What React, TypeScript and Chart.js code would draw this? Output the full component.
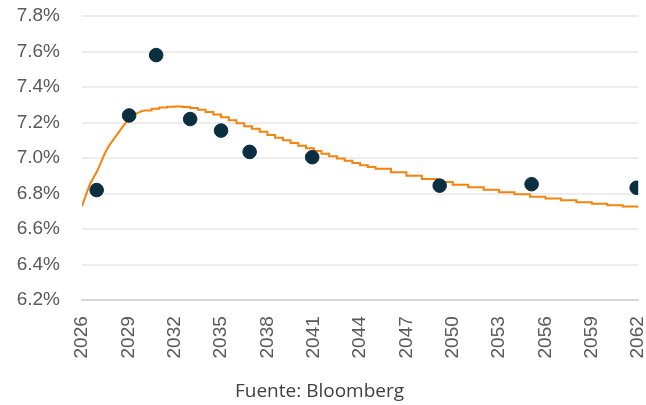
import React, { useEffect, useRef } from "react";
import { Chart, registerables } from "chart.js";

Chart.register(...registerables);

// Observed yields (dots)
const dotYears = [2026.95, 2029.05, 2030.8, 2033.0, 2035.0, 2036.85, 2040.9, 2049.15, 2055.1, 2061.9];
const dotValues = [6.82, 7.24, 7.58, 7.22, 7.155, 7.035, 7.005, 6.845, 6.853, 6.833];

// Fitted curve, steep early part (smooth)
const curveEarlyYears = [
  2026.0, 2026.25, 2026.5, 2026.75, 2027.0, 2027.25, 2027.5, 2027.75,
  2028.0, 2028.25, 2028.5, 2028.75, 2029.0, 2029.25, 2029.5, 2029.75, 2030.0,
];
const curveEarlyValues = [
  6.73, 6.79, 6.85, 6.89, 6.93, 6.98, 7.03, 7.07,
  7.1, 7.13, 7.16, 7.19, 7.215, 7.235, 7.25, 7.26, 7.268,
];

// Fitted curve, later part (stepped)
const curveLateYears = [
  2030.0, 2030.5, 2031.0, 2031.5, 2032.0, 2032.5, 2033.0, 2033.5,
  2034.0, 2034.5, 2035.0, 2035.5, 2036.0, 2036.5, 2037.0, 2037.5,
  2038.0, 2038.5, 2039.0, 2039.5, 2040.0, 2040.5, 2041.0, 2041.5,
  2042.0, 2042.5, 2043.0, 2043.5, 2044.0, 2044.5, 2045.0, 2046.0,
  2047.0, 2048.0, 2049.0, 2050.0, 2051.0, 2052.0, 2053.0, 2054.0,
  2055.0, 2056.0, 2057.0, 2058.0, 2059.0, 2060.0, 2061.0, 2062.0,
];
const curveLateValues = [
  7.268, 7.278, 7.285, 7.289, 7.29, 7.288, 7.282, 7.272,
  7.26, 7.245, 7.23, 7.213, 7.196, 7.18, 7.165, 7.148,
  7.13, 7.115, 7.1, 7.085, 7.07, 7.055, 7.04, 7.025,
  7.01, 6.998, 6.985, 6.972, 6.96, 6.95, 6.94, 6.92,
  6.9, 6.882, 6.866, 6.85, 6.836, 6.822, 6.808, 6.796,
  6.783, 6.772, 6.762, 6.752, 6.743, 6.735, 6.727, 6.72,
];

const xMin = 2026;
const xMax = 2062;
const xStep = 3;
const yMin = 6.2;
const yMax = 7.8;
const yStep = 0.2;
const sourceText = "Fuente: Bloomberg";

const ORANGE = "#f7820c";
const NAVY = "#0b2e40";

export default function App() {
  const ref = useRef<HTMLCanvasElement>(null);

  useEffect(() => {
    document.body.style.margin = "0";
    const ctx = ref.current!.getContext("2d")!;
    const chart = new Chart(ctx, {
      type: "scatter",
      data: {
        datasets: [
          {
            type: "scatter",
            data: dotYears.map((x, i) => ({ x, y: dotValues[i] })),
            backgroundColor: NAVY,
            borderColor: NAVY,
            pointRadius: 6.8,
            pointHoverRadius: 6.8,
            order: 0,
          },
          {
            type: "line",
            data: curveEarlyYears.map((x, i) => ({ x, y: curveEarlyValues[i] })),
            borderColor: ORANGE,
            borderWidth: 2,
            pointRadius: 0,
            cubicInterpolationMode: "monotone",
            fill: false,
            order: 1,
          } as any,
          {
            type: "line",
            data: curveLateYears.map((x, i) => ({ x, y: curveLateValues[i] })),
            borderColor: ORANGE,
            borderWidth: 2,
            pointRadius: 0,
            stepped: true,
            fill: false,
            order: 1,
          } as any,
        ],
      },
      options: {
        animation: false,
        responsive: false,
        maintainAspectRatio: false,
        layout: { padding: { left: 0, right: 7, top: 16, bottom: 0 } },
        plugins: {
          legend: { display: false },
          tooltip: { enabled: false },
          title: {
            display: true,
            position: "bottom",
            text: sourceText,
            color: "#404040",
            font: { family: "'Open Sans'", size: 19, weight: "normal" },
            padding: { top: 20, bottom: 2 },
          },
        },
        scales: {
          x: {
            type: "linear",
            min: xMin,
            max: xMax,
            grid: { display: false, drawTicks: false },
            border: { display: true, color: "#d6d6d6", width: 2 },
            afterFit: (s: any) => {
              s.height = 60;
              s.paddingLeft = 0;
              s.paddingRight = 0;
            },
            ticks: {
              stepSize: xStep,
              minRotation: 90,
              maxRotation: 90,
              autoSkip: false,
              padding: 16,
              color: "#595959",
              font: { family: "'Liberation Sans'", size: 19 },
              callback: (v: any) => String(v),
            },
          },
          y: {
            min: yMin,
            max: yMax,
            grid: { color: "#ededed", lineWidth: 2, drawTicks: false },
            border: { display: false },
            afterFit: (s: any) => {
              s.width = 82;
              s.paddingTop = 0;
              s.paddingBottom = 0;
            },
            ticks: {
              stepSize: yStep,
              padding: 22,
              color: "#595959",
              font: { family: "'Liberation Sans'", size: 19 },
              callback: (v: any) => Number(v).toFixed(1) + "%",
            },
          },
        },
      },
    });
    return () => chart.destroy();
  }, []);

  return (
    <div style={{ position: "fixed", left: 0, top: 0, width: 646, height: 405 }}>
      <canvas ref={ref} width={646} height={405} style={{ width: 646, height: 405 }} />
    </div>
  );
}
